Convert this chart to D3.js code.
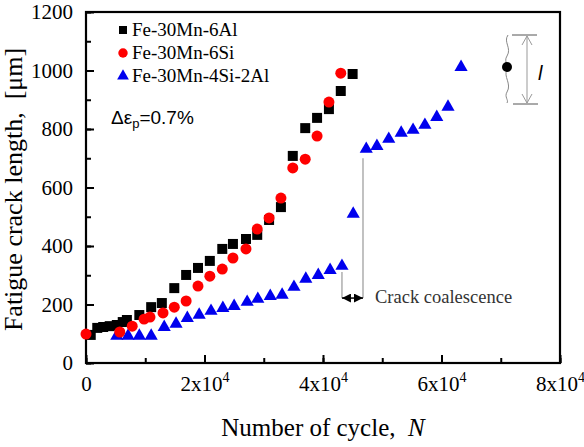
<!DOCTYPE html>
<html>
<head>
<meta charset="utf-8">
<script src="https://cdn.jsdelivr.net/npm/d3@7"></script>
<style>
  body { margin: 0; background: #fff; }
  svg { display: block; }
</style>
</head>
<body>
<svg width="584" height="447"></svg>
<script>
// Fe-30Mn-6Al (black squares)
var cyclesAl = [800, 1900, 2900, 4000, 5200, 6200, 6900, 9000, 11000, 12800, 14900, 16900, 18900, 20900, 23000, 24800, 27000, 28900, 30900, 32900, 34900, 37000, 39000, 41000, 43000, 45000];
var lengthAl = [96, 120, 123, 126, 130, 140, 147, 164, 191, 205, 256, 301, 325, 349, 390, 407, 424, 438, 489, 533, 708, 803, 838, 868, 930, 988];

// Fe-30Mn-6Si (red circles)
var cyclesSi = [0, 5700, 7800, 9800, 10800, 13000, 14900, 16900, 18900, 20900, 23000, 24800, 27000, 28900, 30900, 32900, 34900, 37000, 39000, 41000, 43000];
var lengthSi = [99, 106, 126, 150, 157, 171, 191, 212, 263, 297, 321, 359, 390, 458, 496, 564, 667, 697, 776, 892, 991];

// Fe-30Mn-4Si-2Al (blue triangles)
var cyclesSiAl = [5200, 7100, 9000, 11000, 13200, 15200, 17100, 19100, 21100, 23100, 25000, 27200, 29000, 31100, 33100, 35100, 37100, 39200, 41200, 43200, 45100, 47300, 49100, 51100, 53200, 55200, 57200, 59200, 61100, 63300];
var lengthSiAl = [96, 96, 96, 96, 126, 137, 157, 168, 181, 191, 198, 212, 222, 232, 236, 263, 291, 304, 321, 335, 513, 735, 745, 769, 790, 800, 817, 844, 879, 1015];

var seriesNames = ['Fe-30Mn-6Al', 'Fe-30Mn-6Si', 'Fe-30Mn-4Si-2Al'];
var xTicks = [0, 20000, 40000, 60000, 80000];
var yTicks = [0, 200, 400, 600, 800, 1000, 1200];

// coalescence annotation: cycle range and level (um)
var coalStart = 43200, coalEnd = 46750;
var coalLevel = 222, coalTop1 = 311, coalTop2 = 700;

var serif = '"Liberation Serif", "Times New Roman", serif';
var sans = '"Liberation Sans", Arial, sans-serif';

var x = d3.scaleLinear().domain([0, 80000]).range([86, 560]);
var y = d3.scaleLinear().domain([0, 1200]).range([363, 12]);

var svg = d3.select('svg');

function drawAxes(){
  // minor ticks
  svg.append('g')
    .attr('transform', 'translate(0,' + y(0) + ')')
    .call(d3.axisBottom(x).tickValues(d3.range(0, 80001, 10000)).tickSize(-5).tickFormat(''))
    .call(function(g){ g.select('.domain').remove(); });
  svg.append('g')
    .attr('transform', 'translate(' + x(0) + ',0)')
    .call(d3.axisLeft(y).tickValues(d3.range(0, 1201, 100)).tickSize(-5).tickFormat(''))
    .call(function(g){ g.select('.domain').remove(); });

  var xa = svg.append('g')
    .attr('transform', 'translate(0,' + y(0) + ')')
    .call(d3.axisBottom(x).tickValues(xTicks).tickSize(-8).tickPadding(13));
  xa.select('.domain').remove();
  xa.selectAll('text')
    .style('font-family', serif).style('font-size', '21px').attr('fill', '#000')
    .each(function(d){
      var t = d3.select(this).text('');
      if (d === 0) { t.text('0'); return; }
      t.append('tspan').text((d / 10000) + 'x10');
      t.append('tspan').attr('dy', '-9').style('font-size', '14px').text('4');
    });

  var ya = svg.append('g')
    .attr('transform', 'translate(' + x(0) + ',0)')
    .call(d3.axisLeft(y).tickValues(yTicks).tickFormat(d3.format('d')).tickSize(-8).tickPadding(13));
  ya.select('.domain').remove();
  ya.selectAll('text')
    .style('font-family', serif).style('font-size', '21px').attr('fill', '#000');

  svg.selectAll('.tick line').attr('stroke', '#000').attr('stroke-width', 2);

  svg.append('rect')
    .attr('x', x(0)).attr('y', y(1200))
    .attr('width', x(80000) - x(0)).attr('height', y(0) - y(1200))
    .attr('fill', 'none').attr('stroke', '#000').attr('stroke-width', 2.2);

  svg.append('text')
    .attr('x', (x(0) + x(80000)) / 2).attr('y', 436)
    .attr('text-anchor', 'middle')
    .attr('xml:space', 'preserve')
    .style('font-family', serif).style('font-size', '25px')
    .text('Number of cycle,  ')
    .append('tspan').style('font-style', 'italic').text('N');

  svg.append('text')
    .attr('transform', 'translate(22,' + ((y(0) + y(1200)) / 2 + 2) + ') rotate(-90)')
    .attr('text-anchor', 'middle')
    .attr('xml:space', 'preserve')
    .style('font-family', serif).style('font-size', '26px')
    .text('Fatigue crack length,  [\u03bcm]');
}

function drawSeries(){
  var sq = d3.symbol().type(d3.symbolSquare).size(100);
  var ci = d3.symbol().type(d3.symbolCircle).size(95);
  var tr = d3.symbol().type(d3.symbolTriangle).size(75);

  svg.append('g').selectAll('path')
    .data(d3.zip(cyclesSiAl, lengthSiAl))
    .enter().append('path')
    .attr('d', tr)
    .attr('transform', function(d){ return 'translate(' + x(d[0]) + ',' + (y(d[1]) + 1) + ')'; })
    .style('fill', '#0000ee');

  svg.append('g').selectAll('path')
    .data(d3.zip(cyclesAl, lengthAl))
    .enter().append('path')
    .attr('d', sq)
    .attr('transform', function(d){ return 'translate(' + x(d[0]) + ',' + y(d[1]) + ')'; })
    .style('fill', '#000');

  svg.append('g').selectAll('path')
    .data(d3.zip(cyclesSi, lengthSi))
    .enter().append('path')
    .attr('d', ci)
    .attr('transform', function(d){ return 'translate(' + x(d[0]) + ',' + y(d[1]) + ')'; })
    .style('fill', '#ff0000');
}

function drawLegend(){
  var shapes = [
    d3.symbol().type(d3.symbolSquare).size(64)(),
    d3.symbol().type(d3.symbolCircle).size(70)(),
    d3.symbol().type(d3.symbolTriangle).size(60)()
  ];
  var colors = ['#000', '#ff0000', '#0000ee'];
  var g = svg.append('g').selectAll('g')
    .data(seriesNames)
    .enter().append('g')
    .attr('transform', function(d, i){ return 'translate(123,' + (30 + i * 23) + ')'; });
  g.append('path')
    .attr('d', function(d, i){ return shapes[i]; })
    .style('fill', function(d, i){ return colors[i]; });
  g.append('text')
    .attr('x', 9).attr('y', 6)
    .style('font-family', serif).style('font-size', '19px')
    .text(function(d){ return d; });

  var t = svg.append('text')
    .attr('x', 111).attr('y', 124)
    .style('font-family', sans).style('font-size', '19px');
  t.append('tspan').text('\u0394\u03b5');
  t.append('tspan').attr('dy', 4).style('font-size', '13px').text('p');
  t.append('tspan').attr('dy', -4).text('=0.7%');
}

function drawAnnotations(){
  var gray = '#999';
  var ly = y(coalLevel);
  svg.append('line')
    .attr('x1', x(coalStart)).attr('x2', x(coalStart))
    .attr('y1', y(coalTop1)).attr('y2', ly)
    .attr('stroke', gray).attr('stroke-width', 1.2);
  svg.append('line')
    .attr('x1', x(coalEnd)).attr('x2', x(coalEnd))
    .attr('y1', y(coalTop2)).attr('y2', ly)
    .attr('stroke', gray).attr('stroke-width', 1.2);

  var defs = svg.append('defs');
  defs.append('marker').attr('id', 'ah')
    .attr('viewBox', '0 0 10 10').attr('refX', 10).attr('refY', 5)
    .attr('markerWidth', 6).attr('markerHeight', 6).attr('orient', 'auto-start-reverse')
    .append('path').attr('d', 'M0,0L10,5L0,10z').attr('fill', '#000');
  svg.append('line')
    .attr('x1', x(coalStart)).attr('x2', x(coalEnd))
    .attr('y1', ly).attr('y2', ly)
    .attr('stroke', '#000').attr('stroke-width', 1.5)
    .attr('marker-start', 'url(#ah)').attr('marker-end', 'url(#ah)');
  svg.append('text')
    .attr('x', x(coalEnd) + 12).attr('y', ly + 5)
    .style('font-family', serif).style('font-size', '18.5px').attr('fill', '#333')
    .text('Crack coalescence');

  // crack length schematic
  var g = svg.append('g');
  g.append('path')
    .attr('d', 'M508,35 C503,42 512,48 507,56 C503,62 510,66 507,70 C503,76 512,84 507,92 C504,97 509,100 507,103')
    .attr('fill', 'none').attr('stroke', '#888').attr('stroke-width', 1);
  g.append('circle').attr('cx', 507).attr('cy', 67).attr('r', 5).attr('fill', '#000');
  g.append('line').attr('x1', 512).attr('x2', 537).attr('y1', 35).attr('y2', 35).attr('stroke', '#555');
  g.append('line').attr('x1', 513).attr('x2', 538).attr('y1', 104).attr('y2', 104).attr('stroke', '#555');
  g.append('line').attr('x1', 527).attr('x2', 527).attr('y1', 36).attr('y2', 103).attr('stroke', '#999').attr('stroke-width', 1);
  g.append('path').attr('d', 'M522,45L527,36L532,45 M522,94L527,103L532,94')
    .attr('fill', 'none').attr('stroke', '#999').attr('stroke-width', 1);
  g.append('text').attr('x', 538).attr('y', 80)
    .style('font-family', sans).style('font-size', '20px').style('font-style', 'italic')
    .text('l');
}

drawAxes();
drawSeries();
drawLegend();
drawAnnotations();
</script>
</body>
</html>
